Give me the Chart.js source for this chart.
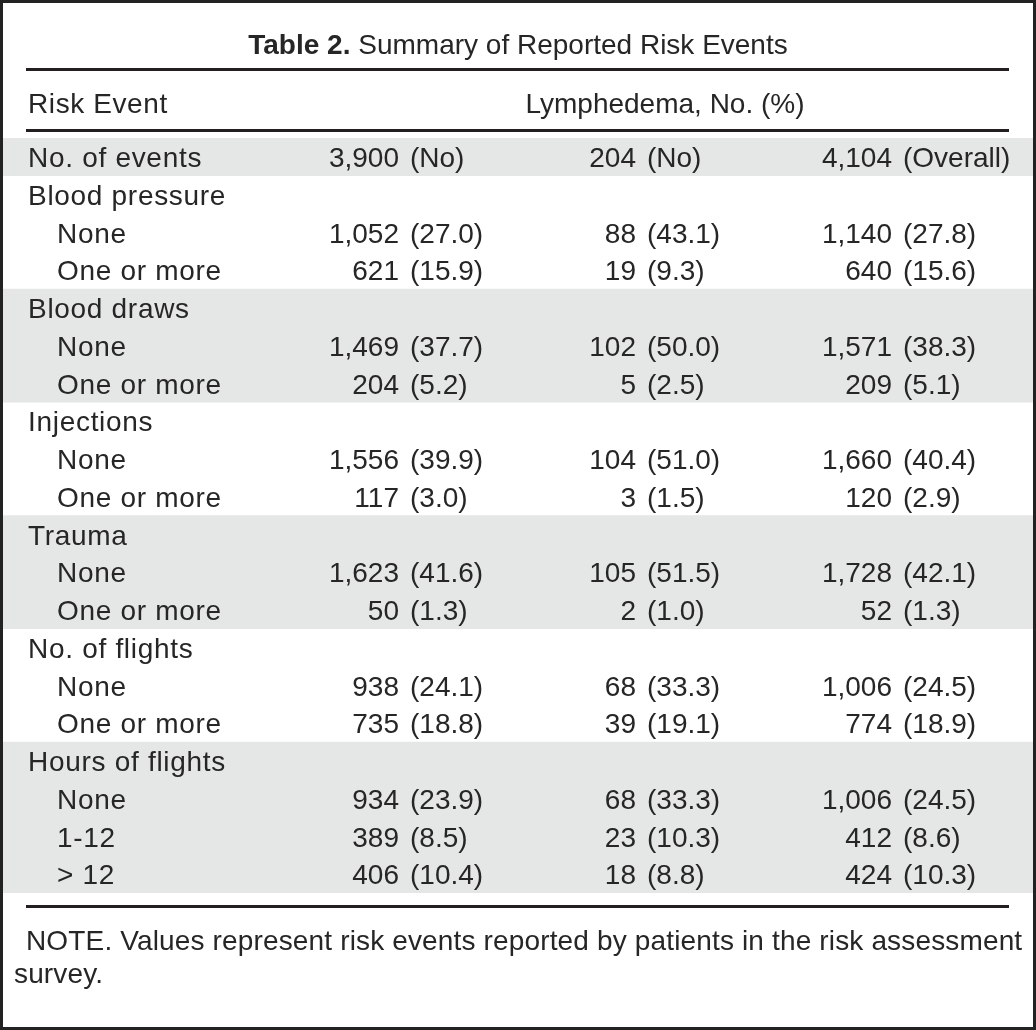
<!DOCTYPE html>
<html>
<head>
<meta charset="utf-8">
<title>Table 2. Summary of Reported Risk Events</title>
<script src="https://cdn.jsdelivr.net/npm/chart.js@4.4.1/dist/chart.umd.min.js"></script>
<style>
    html, body { margin: 0; padding: 0; background: #fff; }
    #wrap { width: 1036px; height: 1030px; }
</style>
</head>
<body>
<div id="wrap"><canvas id="riskTable" width="1036" height="1030"></canvas></div>
<script>
// Row labels (one category per table row)
const rowLabels = [
    'No. of events',
    'Blood pressure', 'None', 'One or more',
    'Blood draws', 'None', 'One or more',
    'Injections', 'None', 'One or more',
    'Trauma', 'None', 'One or more',
    'No. of flights', 'None', 'One or more',
    'Hours of flights', 'None', '1-12', '> 12'
];
// 0 = group heading, 1 = sub item (indented)
const rowLevel = [0, 0, 1, 1, 0, 1, 1, 0, 1, 1, 0, 1, 1, 0, 1, 1, 0, 1, 1, 1];
// rows with grey background
const shadedRows = [0, 4, 5, 6, 10, 11, 12, 16, 17, 18, 19];

const columnNotes = ['No', 'No', 'Overall'];

// Lymphedema: No
const noCounts = [3900, null, 1052, 621, null, 1469, 204, null, 1556, 117, null, 1623, 50, null, 938, 735, null, 934, 389, 406];
const noPct = [null, null, 27.0, 15.9, null, 37.7, 5.2, null, 39.9, 3.0, null, 41.6, 1.3, null, 24.1, 18.8, null, 23.9, 8.5, 10.4];
// second column (204 events)
const yesCounts = [204, null, 88, 19, null, 102, 5, null, 104, 3, null, 105, 2, null, 68, 39, null, 68, 23, 18];
const yesPct = [null, null, 43.1, 9.3, null, 50.0, 2.5, null, 51.0, 1.5, null, 51.5, 1.0, null, 33.3, 19.1, null, 33.3, 10.3, 8.8];
// Overall
const allCounts = [4104, null, 1140, 640, null, 1571, 209, null, 1660, 120, null, 1728, 52, null, 1006, 774, null, 1006, 412, 424];
const allPct = [null, null, 27.8, 15.6, null, 38.3, 5.1, null, 40.4, 2.9, null, 42.1, 1.3, null, 24.5, 18.9, null, 24.5, 8.6, 10.3];

const FONT = '"Liberation Sans", Arial, sans-serif';
const TEXT_COLOR = '#262626';
const RULE_COLOR = '#231f20';

function fmtCount(n) {
    return n.toLocaleString('en-US');
}

function fmtPct(p) {
    return '(' + p.toFixed(1) + ')';
}

// shading bars span the whole width of the row
const shadeData = rowLabels.map((_, i) => shadedRows.includes(i) ? [0, 1] : null);

// Plugin that writes the table text over the shaded rows
const tableTextPlugin = {
    id: 'tableText',
    beforeDraw(chart) {
        const ctx = chart.ctx;
        ctx.save();
        ctx.fillStyle = '#ffffff';
        ctx.fillRect(0, 0, chart.width, chart.height);
        ctx.restore();
    },
    afterDatasetsDraw(chart) {
        const ctx = chart.ctx;
        const yScale = chart.scales.y;
        const area = chart.chartArea;
        const W = chart.width;
        const H = chart.height;

        ctx.save();

        // outer frame
        ctx.strokeStyle = '#222';
        ctx.lineWidth = 3;
        ctx.strokeRect(1.5, 1.5, W - 3, H - 3);

        // title: bold "Table 2." + normal text, centered
        const boldPart = 'Table 2.';
        const restPart = ' Summary of Reported Risk Events';
        ctx.textBaseline = 'middle';
        ctx.fillStyle = TEXT_COLOR;
        ctx.font = 'bold 28px ' + FONT;
        const wBold = ctx.measureText(boldPart).width;
        ctx.font = '28px ' + FONT;
        const wRest = ctx.measureText(restPart).width;
        let tx = W / 2 - (wBold + wRest) / 2;
        ctx.textAlign = 'left';
        ctx.font = 'bold 28px ' + FONT;
        ctx.fillText(boldPart, tx, 46);
        ctx.font = '28px ' + FONT;
        ctx.fillText(restPart, tx + wBold, 46);

        // rules
        ctx.strokeStyle = RULE_COLOR;
        ctx.lineWidth = 3;
        const ruleY = [69.5, area.top - 7.5, area.bottom + 13.5];
        ruleY.forEach(y => {
            ctx.beginPath();
            ctx.moveTo(26, y);
            ctx.lineTo(1009, y);
            ctx.stroke();
        });

        // header row
        ctx.font = '28px ' + FONT;
        ctx.letterSpacing = '0.6px';
        ctx.fillText('Risk Event', 28, 105);
        ctx.letterSpacing = '0px';
        ctx.textAlign = 'center';
        ctx.fillText('Lymphedema, No. (%)', 665, 105);

        // body rows
        const numRight = [399, 636, 892];
        const counts = [noCounts, yesCounts, allCounts];
        const pcts = [noPct, yesPct, allPct];

        rowLabels.forEach((label, i) => {
            const y = yScale.getPixelForValue(i) + 2.5;
            ctx.textAlign = 'left';
            ctx.letterSpacing = '0.7px';
            ctx.fillText(label, rowLevel[i] === 1 ? 57 : 28, y);
            ctx.letterSpacing = '0px';

            for (let c = 0; c < 3; c++) {
                const n = counts[c][i];
                if (n === null) continue;
                ctx.textAlign = 'right';
                ctx.fillText(fmtCount(n), numRight[c], y);
                const p = pcts[c][i];
                const paren = p === null ? '(' + columnNotes[c] + ')' : fmtPct(p);
                ctx.textAlign = 'left';
                ctx.fillText(paren, numRight[c] + 11, y);
            }
        });

        // footnote
        ctx.textAlign = 'left';
        ctx.font = '28px ' + FONT;
        ctx.letterSpacing = '0.15px';
        ctx.fillText('NOTE. Values represent risk events reported by patients in the risk assessment', 26, 942);
        ctx.fillText('survey.', 14, 975);

        ctx.restore();
    }
};

const ctx = document.getElementById('riskTable').getContext('2d');

const riskChart = new Chart(ctx, {
    type: 'bar',
    data: {
        labels: rowLabels,
        datasets: [
            {
                label: 'shade',
                data: shadeData,
                backgroundColor: '#e5e6e6',
                borderWidth: 0,
                barPercentage: 1,
                categoryPercentage: 1
            }
        ]
    },
    options: {
        indexAxis: 'y',
        responsive: false,
        animation: false,
        layout: {
            padding: { top: 138, bottom: 137, left: 3, right: 3 }
        },
        plugins: {
            legend: { display: false },
            tooltip: { enabled: false },
            title: { display: false }
        },
        scales: {
            x: { type: 'linear', min: 0, max: 1, display: false },
            y: { type: 'category', display: false, grid: { display: false } }
        }
    },
    plugins: [tableTextPlugin]
});
</script>
</body>
</html>
